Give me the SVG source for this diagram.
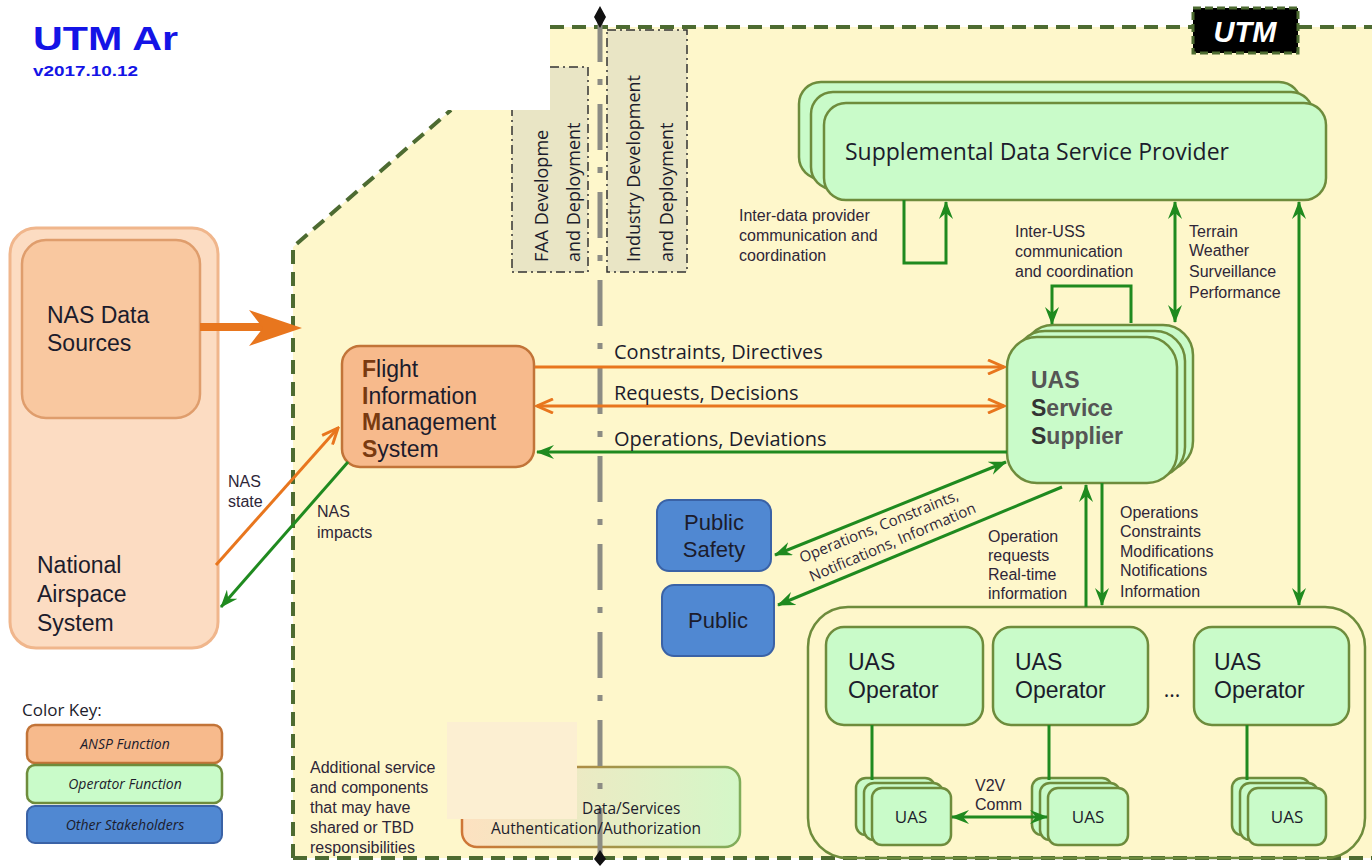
<svg xmlns="http://www.w3.org/2000/svg" width="1372" height="866" viewBox="0 0 1372 866">
<defs>
<style>
text{font-family:"Open Sans","Liberation Sans",sans-serif;fill:#1c1c2c}
.node{font-family:"Liberation Sans",Arial,sans-serif;font-size:23px}
.lbl{font-size:20px}
.sm{font-family:"Liberation Sans",Arial,sans-serif;font-size:16px;fill:#2e2638}
.key{font-size:14px;font-style:italic;text-anchor:middle}
.g{stroke:#1f8a1f;stroke-width:3;fill:none}
.o{stroke:#e8761e;stroke-width:3;fill:none}
.grn{fill:#c9fbc9;stroke:#6e8c3c;stroke-width:2.5}
.ansp{fill:#f7ba8c;stroke:#c27438;stroke-width:2.5}
.blue{fill:#5088d2;stroke:#3a62a6;stroke-width:2}
.bord{stroke:#4d6b31;stroke-width:4;fill:none;stroke-dasharray:14 8}
.dev{fill:#e9e5c5;stroke:#333;stroke-width:1.5;stroke-dasharray:9 4 2 4}
</style>
<linearGradient id="mix" x1="0" x2="1" y1="0" y2="0"><stop offset="0" stop-color="#fde1c0"/><stop offset="1" stop-color="#d4f7c8"/></linearGradient>
<linearGradient id="mixs" x1="0" x2="1" y1="0" y2="0"><stop offset="0" stop-color="#cf7636"/><stop offset="1" stop-color="#80ad5a"/></linearGradient>
<marker id="ag" markerUnits="userSpaceOnUse" markerWidth="18" markerHeight="14" viewBox="0 0 18 14" refX="17" refY="7" orient="auto-start-reverse"><path d="M0,0 L18,7 L0,14 L6,7 z" fill="#1f8a1f"/></marker>
<marker id="ao" markerUnits="userSpaceOnUse" markerWidth="20" markerHeight="16" viewBox="0 0 20 16" refX="18" refY="8" orient="auto-start-reverse"><path d="M2,1 L18,8 L2,15" fill="none" stroke="#e8761e" stroke-width="3"/></marker>
</defs>

<rect width="1372" height="866" fill="#fff"/>

<g id="utm-area">
<polygon points="550,27 1372,27 1372,858 293,858 293,247 451,110 550,110" fill="#fef7cb"/>
<path class="bord" d="M550,27 L1372,27 M293,858 L1372,858 M293,858 L293,247 L451,110"/>
</g>

<g id="faa-dev">
<rect class="dev" x="512" y="67" width="76" height="205"/>
<text transform="translate(548,262) rotate(-90)" style="font-size:18px">FAA Developme</text>
<text transform="translate(580,262) rotate(-90)" style="font-size:18px">and Deployment</text>
</g>
<g id="industry-dev">
<rect class="dev" x="607" y="30" width="80" height="242"/>
<text transform="translate(640,262) rotate(-90)" style="font-size:18px">Industry Development</text>
<text transform="translate(673,262) rotate(-90)" style="font-size:18px">and Deployment</text>
</g>

<rect x="440" y="0" width="110" height="110" fill="#fff"/>

<g id="title">
<text x="33" y="50" textLength="145" lengthAdjust="spacingAndGlyphs" style="font-family:'Liberation Sans',sans-serif;font-weight:bold;font-size:34px;fill:#1414e6">UTM Ar</text>
<text x="33" y="76" textLength="105" lengthAdjust="spacingAndGlyphs" style="font-family:'Liberation Sans',sans-serif;font-weight:bold;font-size:14px;fill:#1414e6">v2017.10.12</text>
</g>

<g id="utm-label">
<rect x="1193" y="8" width="105" height="45" fill="#000" stroke="#4d6b31" stroke-width="3" stroke-dasharray="8 4"/>
<text x="1245" y="42" text-anchor="middle" style="font-family:'Liberation Sans',sans-serif;font-size:29px;font-weight:bold;font-style:italic;fill:#fff">UTM</text>
</g>

<g id="nas">
<rect x="10" y="228" width="208" height="420" rx="26" fill="#fcdcc2" stroke="#f0b68c" stroke-width="3"/>
<text class="node" x="37" y="573">National</text>
<text class="node" x="37" y="602">Airspace</text>
<text class="node" x="37" y="631">System</text>
</g>
<g id="nas-data">
<rect x="22" y="240" width="178" height="178" rx="24" fill="#f9c8a0" stroke="#df9d6c" stroke-width="2.5"/>
<text class="node" x="47" y="323">NAS Data</text>
<text class="node" x="47" y="351">Sources</text>
</g>

<g id="fims">
<rect class="ansp" x="342" y="346" width="192" height="121" rx="18"/>
<text class="node" x="362" y="377"><tspan style="font-weight:bold;fill:#7a3a10">F</tspan>light</text>
<text class="node" x="362" y="403.5"><tspan style="font-weight:bold;fill:#7a3a10">I</tspan>nformation</text>
<text class="node" x="362" y="430"><tspan style="font-weight:bold;fill:#7a3a10">M</tspan>anagement</text>
<text class="node" x="362" y="457"><tspan style="font-weight:bold;fill:#7a3a10">S</tspan>ystem</text>
</g>

<g id="sdsp">
<rect class="grn" x="799" y="82" width="502" height="97" rx="22"/>
<rect class="grn" x="811" y="92" width="502" height="97" rx="22"/>
<rect class="grn" x="824" y="103" width="502" height="97" rx="22"/>
<text x="845" y="160" style="font-size:23px">Supplemental Data Service Provider</text>
</g>

<g id="uss">
<rect class="grn" x="1023" y="325" width="170" height="146" rx="30"/>
<rect class="grn" x="1015" y="331" width="170" height="146" rx="30"/>
<rect class="grn" x="1007" y="337" width="170" height="146" rx="30"/>
<text class="node" x="1031" y="388" style="fill:#555;font-weight:bold">UAS</text>
<text class="node" x="1031" y="416" style="fill:#555;font-weight:bold"><tspan style="fill:#333">S</tspan>ervice</text>
<text class="node" x="1031" y="444" style="fill:#555;font-weight:bold"><tspan style="fill:#333">S</tspan>upplier</text>
</g>

<g id="public-safety">
<rect class="blue" x="657" y="500" width="114" height="71" rx="12"/>
<text class="node" x="714" y="530" text-anchor="middle" style="font-size:22px">Public</text>
<text class="node" x="714" y="557" text-anchor="middle" style="font-size:22px">Safety</text>
</g>
<g id="public">
<rect class="blue" x="662" y="585" width="112" height="71" rx="12"/>
<text class="node" x="718" y="628" text-anchor="middle" style="font-size:22px">Public</text>
</g>

<g id="operators">
<rect x="808" y="607" width="557" height="251" rx="40" fill="none" stroke="#6e8c3c" stroke-width="2.5"/>
<text x="1172" y="697" text-anchor="middle" style="font-size:21px">...</text>
</g>
<g id="op1">
<rect class="grn" x="826" y="627" width="157" height="98" rx="18"/>
<text class="node" x="848" y="670">UAS</text>
<text class="node" x="848" y="698">Operator</text>
</g>
<g id="op2">
<rect class="grn" x="993" y="627" width="155" height="98" rx="18"/>
<text class="node" x="1015" y="670">UAS</text>
<text class="node" x="1015" y="698">Operator</text>
</g>
<g id="op3">
<rect class="grn" x="1194" y="627" width="155" height="98" rx="18"/>
<text class="node" x="1214" y="670">UAS</text>
<text class="node" x="1214" y="698">Operator</text>
</g>
<g id="uas1">
<rect class="grn" x="856" y="778" width="79" height="57" rx="10"/>
<rect class="grn" x="864" y="783" width="79" height="57" rx="10"/>
<rect class="grn" x="872" y="788" width="79" height="57" rx="10"/>
<text x="911" y="823" text-anchor="middle" style="font-size:17px">UAS</text>
</g>
<g id="uas2">
<rect class="grn" x="1032" y="778" width="80" height="57" rx="10"/>
<rect class="grn" x="1040" y="783" width="80" height="57" rx="10"/>
<rect class="grn" x="1048" y="788" width="80" height="57" rx="10"/>
<text x="1088" y="823" text-anchor="middle" style="font-size:17px">UAS</text>
</g>
<g id="uas3">
<rect class="grn" x="1232" y="778" width="78" height="57" rx="10"/>
<rect class="grn" x="1240" y="783" width="78" height="57" rx="10"/>
<rect class="grn" x="1248" y="788" width="78" height="57" rx="10"/>
<text x="1287" y="823" text-anchor="middle" style="font-size:17px">UAS</text>
</g>

<g id="shared">
<rect x="462" y="767" width="278" height="80" rx="15" fill="url(#mix)" stroke="url(#mixs)" stroke-width="2.5"/>
</g>
<g id="additional">
<text class="sm" x="310" y="773">Additional service</text>
<text class="sm" x="310" y="793">and components</text>
<text class="sm" x="310" y="813">that may have</text>
<text class="sm" x="310" y="833">shared or TBD</text>
<text class="sm" x="310" y="853">responsibilities</text>
</g>

<g id="legend">
<text x="22" y="716" style="font-size:17px">Color Key:</text>
<rect class="ansp" x="27" y="725" width="195" height="38" rx="8"/>
<text class="key" x="125" y="749">ANSP Function</text>
<rect class="grn" x="27" y="765" width="195" height="38" rx="8"/>
<text class="key" x="125" y="789">Operator Function</text>
<rect class="blue" x="27" y="806" width="195" height="37" rx="8"/>
<text class="key" x="125" y="830">Other Stakeholders</text>
</g>

<g id="divider">
<line x1="600" y1="16" x2="600" y2="858" stroke="#8c8c84" stroke-width="5" stroke-dasharray="46 17 6 19"/>
<path d="M600,6 L606,17 L600,28 L594,17 z M600,850 L606,859 L600,866 L594,859 z" fill="#111"/>
</g>

<g id="shared-text">
<text x="582" y="814" style="font-size:15.5px">Data/Services</text>
<text x="596" y="834" text-anchor="middle" style="font-size:15.5px">Authentication/Authorization</text>
</g>
<rect x="447" y="722" width="130" height="97" fill="#fcefd2"/>

<g id="connectors">
<line x1="200" y1="327" x2="265" y2="327" stroke="#e8761e" stroke-width="8"/>
<polygon points="302,328 249,310 263,328 249,346" fill="#e8761e"/>
<line class="o" x1="216" y1="565" x2="338" y2="428" marker-end="url(#ao)"/>
<line class="g" x1="348" y1="462" x2="221" y2="607" marker-end="url(#ag)"/>
<line class="o" x1="535" y1="367" x2="1004" y2="367" marker-end="url(#ao)"/>
<line class="o" x1="537" y1="406" x2="1004" y2="406" marker-start="url(#ao)" marker-end="url(#ao)"/>
<line class="g" x1="1007" y1="452" x2="537" y2="452" marker-end="url(#ag)"/>
<line class="g" x1="775" y1="555" x2="1006" y2="462" marker-start="url(#ag)" marker-end="url(#ag)"/>
<line class="g" x1="1062" y1="487" x2="778" y2="605" marker-end="url(#ag)"/>
<polyline class="g" points="904,200 904,263 946,263 946,202" marker-end="url(#ag)"/>
<polyline class="g" points="1131,323 1131,286 1052,286 1052,324" marker-end="url(#ag)"/>
<line class="g" x1="1175" y1="202" x2="1175" y2="322" marker-start="url(#ag)" marker-end="url(#ag)"/>
<line class="g" x1="1299" y1="202" x2="1299" y2="605" marker-start="url(#ag)" marker-end="url(#ag)"/>
<line class="g" x1="1086" y1="607" x2="1086" y2="485" marker-end="url(#ag)"/>
<line class="g" x1="1102" y1="483" x2="1102" y2="605" marker-end="url(#ag)"/>
<line class="g" x1="872" y1="725" x2="872" y2="780"/>
<line class="g" x1="1049" y1="725" x2="1049" y2="780"/>
<line class="g" x1="1247" y1="725" x2="1247" y2="780"/>
<line class="g" x1="952" y1="817" x2="1047" y2="817" marker-start="url(#ag)" marker-end="url(#ag)"/>
</g>

<g id="labels">
<text class="lbl" x="614" y="359">Constraints, Directives</text>
<text class="lbl" x="614" y="400">Requests, Decisions</text>
<text class="lbl" x="614" y="446">Operations, Deviations</text>
<text class="sm" x="228" y="487">NAS</text>
<text class="sm" x="228" y="507">state</text>
<text class="sm" x="317" y="517">NAS</text>
<text class="sm" x="317" y="538">impacts</text>
<text class="sm" x="739" y="221">Inter-data provider</text>
<text class="sm" x="739" y="241">communication and</text>
<text class="sm" x="739" y="261">coordination</text>
<text class="sm" x="1015" y="237">Inter-USS</text>
<text class="sm" x="1015" y="257">communication</text>
<text class="sm" x="1015" y="277">and coordination</text>
<text class="sm" x="1189" y="237">Terrain</text>
<text class="sm" x="1189" y="256">Weather</text>
<text class="sm" x="1189" y="277">Surveillance</text>
<text class="sm" x="1189" y="298">Performance</text>
<text class="sm" x="988" y="542">Operation</text>
<text class="sm" x="988" y="561">requests</text>
<text class="sm" x="988" y="580">Real-time</text>
<text class="sm" x="988" y="599">information</text>
<text class="sm" x="1120" y="518">Operations</text>
<text class="sm" x="1120" y="537">Constraints</text>
<text class="sm" x="1120" y="557">Modifications</text>
<text class="sm" x="1120" y="576">Notifications</text>
<text class="sm" x="1120" y="597">Information</text>
<text class="sm" transform="translate(802,563) rotate(-22)" style="font-family:'Open Sans',sans-serif;font-size:15px">Operations, Constraints,</text>
<text class="sm" transform="translate(812,582) rotate(-23)" style="font-family:'Open Sans',sans-serif;font-size:15px">Notifications, Information</text>
<text class="sm" x="975" y="791">V2V</text>
<text class="sm" x="975" y="810">Comm</text>
</g>
</svg>
